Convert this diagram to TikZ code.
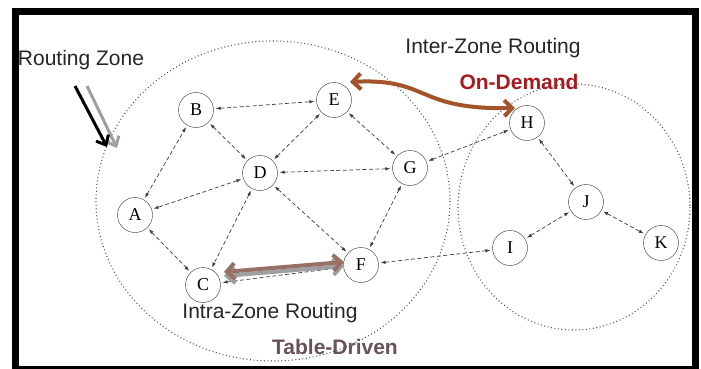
\documentclass[tikz,border=0pt]{standalone}
\usepackage{fontspec}
\setmainfont{Liberation Serif}
\setsansfont{Liberation Sans}
\usetikzlibrary{arrows.meta}

\definecolor{ondemand}{RGB}{168,26,32}
\definecolor{tabledrv}{RGB}{104,84,84}
\definecolor{interarrow}{RGB}{164,84,42}
\definecolor{intraarrow}{RGB}{152,112,104}
\definecolor{edgegray}{RGB}{60,60,60}

\begin{document}
\begin{tikzpicture}[x=1pt,y=-1pt,
  station/.style={draw=black!80, circle, minimum size=35pt, inner sep=0pt, font=\fontsize{18}{18}\selectfont},
  link/.style={<->, >={Latex[length=5pt,width=3.5pt]}, edgegray, line width=.7pt, dash pattern=on 4pt off 2.5pt, shorten <=2pt, shorten >=2pt},
  zone/.style={gray!60!black, line width=1.1pt, dash pattern=on .9pt off 2.6pt},
  caption/.style={font=\sffamily\fontsize{21}{21}\selectfont, text=black!85, inner sep=0pt},
  boldcaption/.style={caption, font=\sffamily\bfseries\fontsize{21}{21}\selectfont},
  bigarrow/.style={line width=4pt, {Straight Barb[length=8pt,width=16pt]}-{Straight Barb[length=8pt,width=16pt]}},
  pointer/.style={line width=3pt, -{Straight Barb[length=8pt,width=14pt]}}]

\fill[white] (0,0) rectangle (701,369);
\useasboundingbox (0,0) rectangle (701,369);

% the two zones
\draw[zone] (273,201) ellipse [x radius=177, y radius=160];
\draw[zone] (574,207) ellipse [x radius=116, y radius=123];

% stations
\node[station] (B) at (196,110) {B};
\node[station] (E) at (334,100) {E};
\node[station] (D) at (260,173) {D};
\node[station] (G) at (410,168) {G};
\node[station] (H) at (527,123) {H};
\node[station] (A) at (135,215) {A};
\node[station] (C) at (203,285) {C};
\node[station] (F) at (361,265) {F};
\node[station] (I) at (510,248) {I};
\node[station] (J) at (586,202) {J};
\node[station] (K) at (661,243) {K};

% links
\draw[link] (B) -- (E);
\draw[link] (B) -- (D);
\draw[link] (A) -- (B);
\draw[link] (D) -- (E);
\draw[link] (D) -- (A);
\draw[link] (D) -- (G);
\draw[link] (E) -- (G);
\draw[link] (G) -- (H);
\draw[link] (D) -- (C);
\draw[link] (A) -- (C);
\draw[link] (D) -- (F);
\draw[link] (G) -- (F);
\draw[link] (C) -- (F);
\draw[link] (F) -- (I);
\draw[link] (H) -- (J);
\draw[link] (I) -- (J);
\draw[link] (J) -- (K);

% inter-zone route
\coordinate (odL) at (350,82);
\coordinate (odR) at (515,108);
\draw[bigarrow, interarrow] (odL) .. controls (430,78) and (415,110) .. (odR);

% intra-zone route
\coordinate (tdL) at (224,273);
\coordinate (tdR) at (344,263);
\draw[bigarrow, gray!75] ([yshift=-3pt]tdL) -- ([yshift=-3pt]tdR);
\draw[bigarrow, intraarrow] ([yshift=1pt]tdL) -- ([yshift=1pt]tdR);

% pointer to the zone border
\coordinate (rzA) at (75,86);
\coordinate (rzB) at (107,147);
\coordinate (rzC) at (87,86);
\coordinate (rzD) at (117,148);
\draw[pointer, gray!75] (rzC) -- (rzD);
\draw[pointer, black] (rzA) -- (rzB);

% captions
\node[caption] (rzone) at (81,60) {Routing Zone};
\node[caption] (inter) at (493,48) {Inter-Zone Routing};
\node[boldcaption, text=ondemand] (ondem) at (519,82) {On-Demand};
\node[caption] (intra) at (270,313) {Intra-Zone Routing};
\node[boldcaption, text=tabledrv] (tdriven) at (335,347) {Table-Driven};

% frame
\draw[line width=7pt] (15.5,12) rectangle (695,369.5);
\end{tikzpicture}
\end{document}
